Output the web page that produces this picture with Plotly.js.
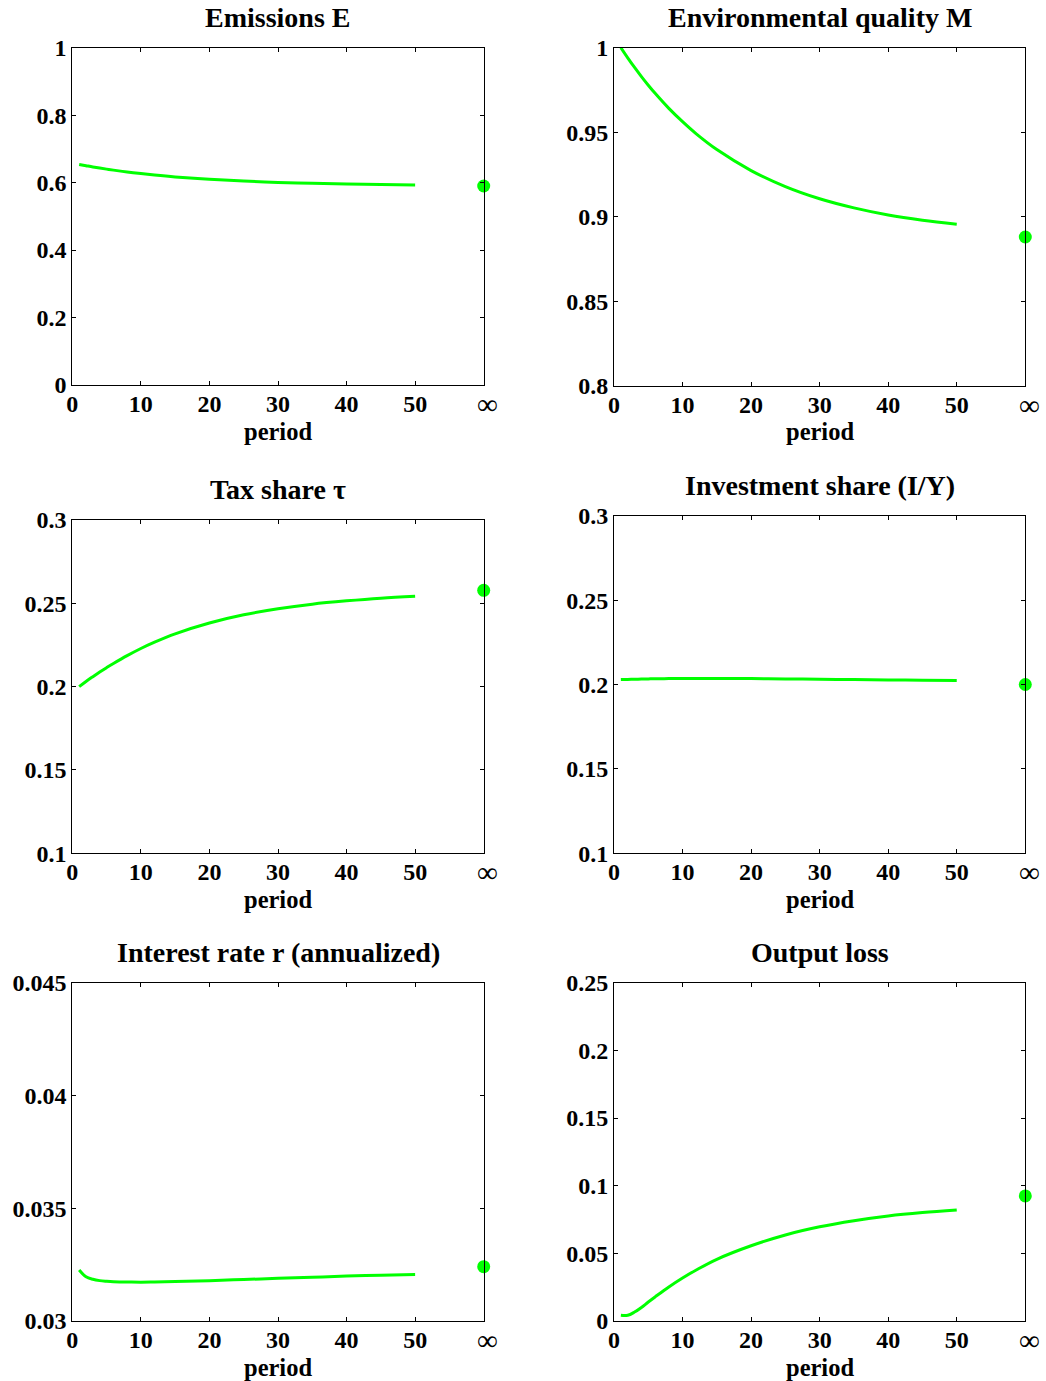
<!DOCTYPE html>
<html>
<head>
<meta charset="utf-8">
<script src="https://cdn.plot.ly/plotly-3.0.1.min.js"></script>
<style>
  html, body { margin: 0; padding: 0; background: #ffffff; }
  #chart { width: 1046px; height: 1381px; }
</style>
</head>
<body>
<div id="chart"></div>
<script>
// ---------------- data ----------------
const periods = [1, 2, 3, 4, 5, 6, 8, 10, 12, 15, 20, 25, 30, 35, 40, 45, 50];
const infX = 60; // position of the "∞" (steady state) column

const emissions = [0.654, 0.6502, 0.6465, 0.6432, 0.6400, 0.6370, 0.6315, 0.6267, 0.6224, 0.6169, 0.6098, 0.6045, 0.6006, 0.5978, 0.5957, 0.5942, 0.5931];
const emissionsSS = 0.590;

const envQuality = [1.000, 0.9940, 0.9883, 0.9829, 0.9778, 0.9730, 0.9641, 0.9562, 0.9490, 0.9397, 0.9273, 0.9178, 0.9106, 0.9052, 0.9010, 0.8979, 0.8955];
const envQualitySS = 0.888;

const taxShare = [0.2000, 0.2031, 0.2060, 0.2088, 0.2114, 0.2139, 0.2186, 0.2229, 0.2267, 0.2317, 0.2382, 0.2431, 0.2467, 0.2495, 0.2515, 0.2531, 0.2542];
const taxShareSS = 0.2578;

const investShare = [0.2029, 0.2030, 0.2031, 0.2032, 0.2033, 0.2034, 0.2035, 0.2036, 0.2036, 0.2036, 0.2035, 0.2033, 0.2031, 0.2029, 0.2027, 0.2025, 0.2023];
const investShareSS = 0.200;

const interestRate = [0.03226, 0.03196, 0.03185, 0.03179, 0.03176, 0.03174, 0.03173, 0.03172, 0.03173, 0.03175, 0.03179, 0.03184, 0.03189, 0.03194, 0.03199, 0.03203, 0.03206];
const interestRateSS = 0.03241;

const outputLoss = [0.0042, 0.0042, 0.0066, 0.0100, 0.0140, 0.0178, 0.0252, 0.0318, 0.0377, 0.0456, 0.0556, 0.0636, 0.0696, 0.0741, 0.0776, 0.0801, 0.0820];
const outputLossSS = 0.0924;

const titles = ["Emissions E", "Environmental quality M", "Tax share \u03c4", "Investment share (I/Y)", "Interest rate r (annualized)", "Output loss"];

const xTickVals = [0, 10, 20, 30, 40, 50];
const xTickText = ["0", "10", "20", "30", "40", "50"];
const infLabel = "\u221e";
const xLabel = "period";

const yTicks1 = [0, 0.2, 0.4, 0.6, 0.8, 1];
const yText1 = ["0", "0.2", "0.4", "0.6", "0.8", "1"];
const yTicks2 = [0.8, 0.85, 0.9, 0.95, 1];
const yText2 = ["0.8", "0.85", "0.9", "0.95", "1"];
const yTicks3 = [0.1, 0.15, 0.2, 0.25, 0.3];
const yText3 = ["0.1", "0.15", "0.2", "0.25", "0.3"];
const yTicks4 = [0.1, 0.15, 0.2, 0.25, 0.3];
const yText4 = ["0.1", "0.15", "0.2", "0.25", "0.3"];
const yTicks5 = [0.03, 0.035, 0.04, 0.045];
const yText5 = ["0.03", "0.035", "0.04", "0.045"];
const yTicks6 = [0, 0.05, 0.1, 0.15, 0.2, 0.25];
const yText6 = ["0", "0.05", "0.1", "0.15", "0.2", "0.25"];

// ---------------- build ----------------
const GREEN = "#00ff00";
const FONT = "Liberation Serif, Times New Roman, serif";

const series = [
  {y: emissions, ss: emissionsSS, range: [0, 1], tv: yTicks1, tt: yText1},
  {y: envQuality, ss: envQualitySS, range: [0.8, 1], tv: yTicks2, tt: yText2},
  {y: taxShare, ss: taxShareSS, range: [0.1, 0.3], tv: yTicks3, tt: yText3},
  {y: investShare, ss: investShareSS, range: [0.1, 0.3], tv: yTicks4, tt: yText4},
  {y: interestRate, ss: interestRateSS, range: [0.03, 0.045], tv: yTicks5, tt: yText5},
  {y: outputLoss, ss: outputLossSS, range: [0, 0.25], tv: yTicks6, tt: yText6}
];

const W = 1046, H = 1381;
const xDomPx = [[72.3, 483.7], [614, 1025.3]];
const yDomPx = [[47.7, 385], [47.7, 385.7], [520, 853.3], [515.7, 853.3], [982.7, 1321], [982.7, 1321]];
const titleShift = [13, 13, 13, 13, 13, 13];

const traces = [];
const layout = {
  width: W, height: H,
  margin: {l: 0, r: 0, t: 0, b: 0},
  paper_bgcolor: "#ffffff",
  plot_bgcolor: "#ffffff",
  showlegend: false,
  font: {family: FONT, color: "#000000"},
  annotations: []
};

series.forEach((s, i) => {
  const n = i + 1;
  const xa = n === 1 ? "x" : "x" + n;
  const ya = n === 1 ? "y" : "y" + n;
  const col = i % 2;
  traces.push({
    x: periods, y: s.y, xaxis: xa, yaxis: ya,
    type: "scatter", mode: "lines",
    line: {color: GREEN, width: 3, shape: "spline", smoothing: 1},
    hoverinfo: "skip", cliponaxis: false
  });
  traces.push({
    x: [infX], y: [s.ss], xaxis: xa, yaxis: ya,
    type: "scatter", mode: "markers",
    marker: {color: GREEN, size: 13},
    hoverinfo: "skip", cliponaxis: false
  });
  const common = {
    showgrid: false, zeroline: false,
    showline: true, linecolor: "#000000", linewidth: 1, mirror: "ticks",
    ticks: "inside", ticklen: 4, tickwidth: 1, tickcolor: "#000000",
    tickfont: {family: FONT, size: 24, color: "#000000", weight: "bold"},
    tickmode: "array", fixedrange: true
  };
  layout[n === 1 ? "xaxis" : "xaxis" + n] = Object.assign({}, common, {
    domain: [xDomPx[col][0] / W, xDomPx[col][1] / W],
    anchor: ya, range: [0, infX],
    tickvals: xTickVals, ticktext: xTickText,
    ticklabelstandoff: -3
  });
  layout[n === 1 ? "yaxis" : "yaxis" + n] = Object.assign({}, common, {
    domain: [1 - yDomPx[i][1] / H, 1 - yDomPx[i][0] / H],
    anchor: xa, range: s.range,
    tickvals: s.tv, ticktext: s.tt
  });
  // subplot title
  layout.annotations.push({
    text: titles[i], showarrow: false,
    xref: xa + " domain", yref: ya + " domain",
    x: 0.5, y: 1, xanchor: "center", yanchor: "bottom", yshift: titleShift[i],
    font: {family: FONT, size: 28, color: "#000000", weight: "bold"}
  });
  // x axis label
  layout.annotations.push({
    text: xLabel, showarrow: false,
    xref: xa + " domain", yref: ya + " domain",
    x: 0.5, y: 0, xanchor: "center", yanchor: "middle", yshift: -46,
    font: {family: FONT, size: 24.5, color: "#000000", weight: "bold"}
  });
  // infinity label under the steady-state column
  layout.annotations.push({
    text: infLabel, showarrow: false,
    xref: xa, yref: ya + " domain",
    x: infX, y: 0, xanchor: "center", yanchor: "middle", xshift: 4, yshift: -19,
    font: {family: FONT, size: 29, color: "#000000"}
  });
});

Plotly.newPlot("chart", traces, layout, {staticPlot: true, displayModeBar: false});
</script>
</body>
</html>
